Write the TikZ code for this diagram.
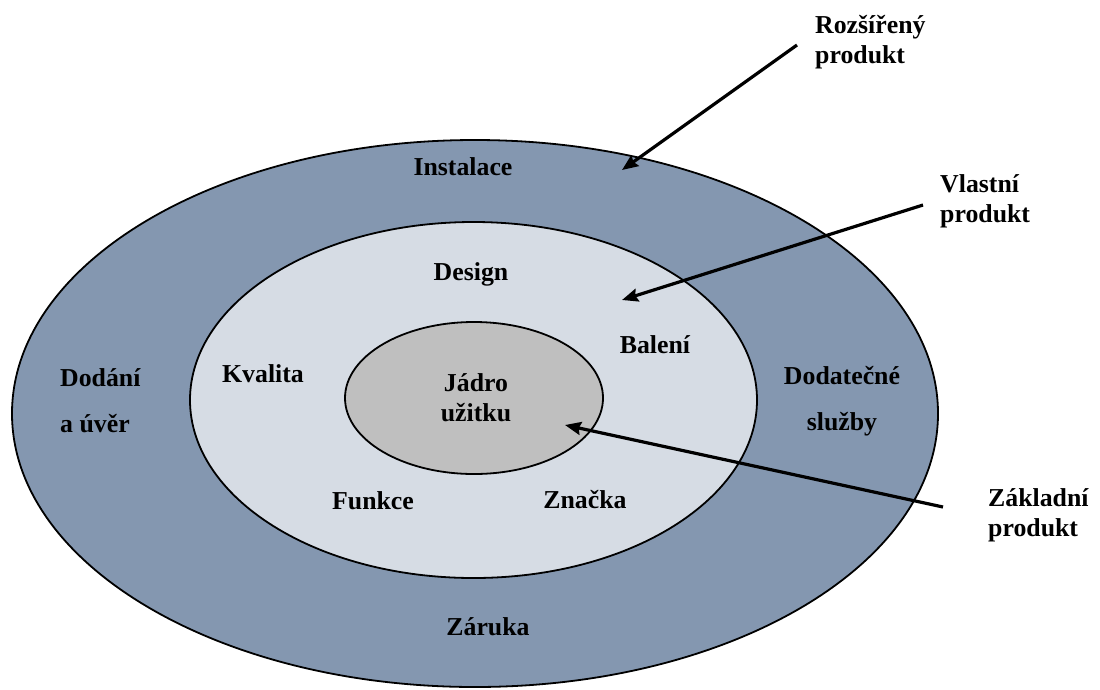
\documentclass[tikz,border=0pt]{standalone}
\usepackage{fontspec}
\setmainfont{Liberation Serif}
\usetikzlibrary{arrows.meta,shapes.geometric}
\definecolor{ringout}{HTML}{8497B0}
\definecolor{ringmid}{HTML}{D6DCE4}
\definecolor{ringin}{HTML}{BFBFBF}

\begin{document}
\begin{tikzpicture}[x=1pt,y=-1pt,font=\fontsize{25.8}{30}\selectfont\bfseries,
ring/.style={draw,ellipse,line width=1.8pt,inner sep=0pt},
lbl/.style={inner sep=0pt,align=center},
side/.style={inner sep=0pt,align=left,anchor=west},
pointer/.style={-{Stealth[length=16pt,width=13pt,inset=2pt]},line width=3.2pt}]
\useasboundingbox (0,0) rectangle (1100,689);
\node[ring,fill=ringout,minimum width=926pt,minimum height=547pt] (outer) at (475,413.5) {};
\node[ring,fill=ringmid,minimum width=567pt,minimum height=356pt] (middle) at (473.5,400) {};
\node[ring,fill=ringin,minimum width=258pt,minimum height=152pt] (core) at (474,398) {};
% ring labels
\node[lbl] (instal) at (463,167) {Instalace};
\node[lbl] (zaruka) at (488,627) {Záruka};
\node[side] (dodani) at (60,401) {Dodání\\[16pt]a úvěr};
\node[lbl] (dodat) at (842,401) {Dodatečné\\[16pt]služby};
\node[lbl] (design) at (471,274) {Design};
\node[lbl] (baleni) at (655,345) {Balení};
\node[lbl] (kvalita) at (263,374) {Kvalita};
\node[lbl] (funkce) at (373,501) {Funkce};
\node[lbl] (znacka) at (585,500) {Značka};
\node[lbl] (jadro) at (476,398) {Jádro\\užitku};
% outside labels
\node[side] (rozs) at (815,42) {Rozšířený\\produkt};
\node[side] (vlast) at (940,201) {Vlastní\\produkt};
\node[side] (zakl) at (988,515) {Základní\\produkt};
\coordinate (rozstip) at (622,170);
\coordinate (vlasttip) at (622,300);
\coordinate (zakltip) at (565,425);
\draw[pointer] ([xshift=-18pt,yshift=-3pt]rozs.west)--(rozstip);
\draw[pointer] ([xshift=-17pt,yshift=-4pt]vlast.west)--(vlasttip);
\draw[pointer] ([xshift=-45pt,yshift=8pt]zakl.west)--(zakltip);
\end{tikzpicture}
\end{document}
